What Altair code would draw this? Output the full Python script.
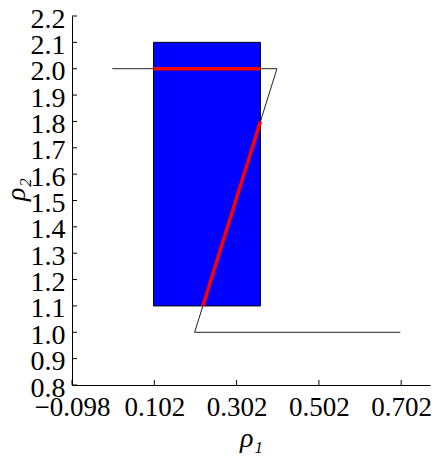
import altair as alt
import pandas as pd

# data
path_x = [0.0, 0.4, 0.2, 0.7]
path_y = [2.0, 2.0, 1.0, 1.0]
rect_x = [0.1, 0.36]
rect_y = [1.1, 2.1]
red_seg1_x = [0.1, 0.36]
red_seg1_y = [2.0, 2.0]
red_seg2_x = [0.36, 0.22]
red_seg2_y = [1.8, 1.1]
x_ticks = [-0.098, 0.102, 0.302, 0.502, 0.702]
y_ticks = [0.8, 0.9, 1.0, 1.1, 1.2, 1.3, 1.4, 1.5, 1.6, 1.7, 1.8, 1.9, 2.0, 2.1, 2.2]

X_DOM = [-0.098, 0.772]
Y_DOM = [0.8, 2.2]
W, H = 358, 369
FONT = "Liberation Serif"
FS = 28
FSX = 27

xs = alt.Scale(domain=X_DOM, nice=False, zero=False)
ys = alt.Scale(domain=Y_DOM, nice=False, zero=False)

xlabel_expr = "replace(format(datum.value, '.3f'), '-', '\u2212')"

XAX = alt.Axis(values=x_ticks, labelExpr=xlabel_expr, title="\u03c1\u2081",
               labelFont=FONT, labelFontSize=FSX, titleFont=FONT, titleFontSize=FS,
               titleFontWeight="normal", titleFontStyle="italic",
               labelColor="black", titleColor="black", domainColor="black",
               tickSize=0, labelPadding=9, titlePadding=4, grid=False,
               labelOverlap=False, labelFlush=False)
YAX = alt.Axis(values=y_ticks, format=".1f", title="\u03c1\u2082",
               labelFont=FONT, labelFontSize=FS, titleFont=FONT, titleFontSize=FS,
               titleFontWeight="normal", titleFontStyle="italic",
               labelColor="black", titleColor="black", domainColor="black",
               tickSize=0, labelPadding=7, labelOffset=3, grid=False,
               labelOverlap=False, labelFlush=False,
               titleX=-42, titleY=173)

path_df = pd.DataFrame({"x": path_x, "y": path_y, "o": list(range(len(path_x)))})
rect_df = pd.DataFrame({"x": [rect_x[0]], "x2": [rect_x[1]], "y": [rect_y[0]], "y2": [rect_y[1]]})
red_df = pd.DataFrame({
    "x": red_seg1_x + red_seg2_x,
    "y": red_seg1_y + red_seg2_y,
    "seg": ["a", "a", "b", "b"],
    "o": [0, 1, 0, 1],
})
xt_df = pd.DataFrame({"x": x_ticks})
yt_df = pd.DataFrame({"y": y_ticks})

rect = alt.Chart(rect_df).mark_rect(color="#0000FF", stroke="black", strokeWidth=1).encode(
    x=alt.X("x:Q", scale=xs, axis=XAX), x2="x2:Q",
    y=alt.Y("y:Q", scale=ys, axis=YAX), y2="y2:Q",
)

path = alt.Chart(path_df).mark_line(color="#222222", strokeWidth=1).encode(
    x=alt.X("x:Q", scale=xs, axis=XAX), y=alt.Y("y:Q", scale=ys, axis=YAX), order="o:Q")

red = alt.Chart(red_df).mark_line(color="#FF0000", strokeWidth=3.5).encode(
    x=alt.X("x:Q", scale=xs, axis=XAX), y=alt.Y("y:Q", scale=ys, axis=YAX),
    detail="seg:N", order="o:Q")

xt = alt.Chart(xt_df).mark_rule(color="black", strokeWidth=1).encode(
    x=alt.X("x:Q", scale=xs, axis=XAX), y=alt.value(H), y2=alt.value(H - 5))
yt = alt.Chart(yt_df).mark_rule(color="black", strokeWidth=1).encode(
    y=alt.Y("y:Q", scale=ys, axis=YAX), x=alt.value(0), x2=alt.value(5))

chart = alt.layer(rect, path, red, xt, yt).properties(
    width=W, height=H,
    autosize=alt.AutoSizeParams(type="none"),
    padding={"left": 64, "top": 8, "right": 1, "bottom": 68},
).configure_view(stroke=None).configure_axis(domainWidth=1, labelOverlap=False)

chart.save("out.html", embed_options={"renderer": "svg", "actions": False})
